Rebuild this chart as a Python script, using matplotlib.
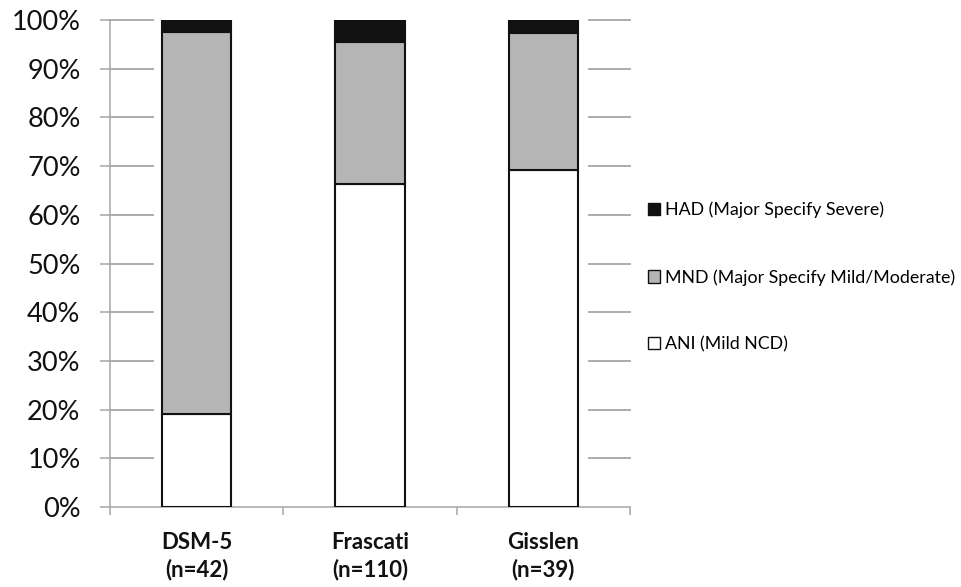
import matplotlib
matplotlib.use("Agg")
import matplotlib.pyplot as plt
from matplotlib.patches import Patch
import numpy as np

plt.rcParams['font.family'] = ['Lato', 'DejaVu Sans']

categories = ["DSM-5\n(n=42)", "Frascati\n(n=110)", "Gisslen\n(n=39)"]
ani = [19.0, 66.4, 69.2]
mnd = [78.6, 29.1, 28.2]
had = [2.4, 4.5, 2.6]
series_names = ["HAD (Major Specify Severe)", "MND (Major Specify Mild/Moderate)", "ANI (Mild NCD)"]
yticks = [0, 10, 20, 30, 40, 50, 60, 70, 80, 90, 100]
ytick_labels = [f"{v}%" for v in yticks]

fig = plt.figure(figsize=(9.62, 5.87), dpi=100)
ax = fig.add_axes([110/962, 1-507/587, 520/962, 487/587])

x = np.arange(len(categories))
w = 0.40
edge = dict(edgecolor="#111111", linewidth=1.5)
b1 = ax.bar(x, ani, w, color="white", zorder=3, **edge)
b2 = ax.bar(x, mnd, w, bottom=ani, color="#b5b5b5", zorder=3, **edge)
b3 = ax.bar(x, had, w, bottom=np.array(ani) + np.array(mnd), color="#111111", zorder=3, **edge)

ax.set_xlim(-0.5, 2.5)
ax.set_ylim(0, 100)

grid_c = "#a6a6a6"
for v in yticks[1:]:
    ax.plot([-0.5, -0.252], [v, v], color=grid_c, lw=1.3, zorder=1, clip_on=False)
    ax.plot([2.264, 2.5], [v, v], color=grid_c, lw=1.3, zorder=1, clip_on=False)

ax.set_yticks(yticks)
ax.set_yticklabels(ytick_labels, fontsize=19.5, color="#111111")
ax.tick_params(axis='y', length=7.2, width=1.1, color=grid_c, pad=14)

ax.set_xticks([-0.5, 0.5, 1.5, 2.5])
ax.set_xticklabels([])
ax.tick_params(axis='x', length=6, width=1.1, color=grid_c)
ax.set_xticks(x, minor=True)
ax.set_xticklabels(categories, minor=True, fontsize=16, fontweight="bold",
                   color="#111111", linespacing=1.3)
ax.tick_params(axis='x', which='minor', length=0, pad=18)

for s in ["top", "right"]:
    ax.spines[s].set_visible(False)
for s in ["left", "bottom"]:
    ax.spines[s].set_color(grid_c)
    ax.spines[s].set_linewidth(1.1)

handles = [Patch(facecolor="#111111", edgecolor="#111111", linewidth=1.0),
           Patch(facecolor="#b5b5b5", edgecolor="#111111", linewidth=1.0),
           Patch(facecolor="white", edgecolor="#111111", linewidth=1.0)]
fig.legend(handles, series_names, loc="center left",
           bbox_to_anchor=(648/962, 1-277/587), frameon=False,
           fontsize=12.8, handlelength=0.7, handleheight=0.7,
           handletextpad=0.25, labelspacing=2.85, borderpad=0, borderaxespad=0)

fig.savefig("out.png", dpi=100, facecolor="white")
